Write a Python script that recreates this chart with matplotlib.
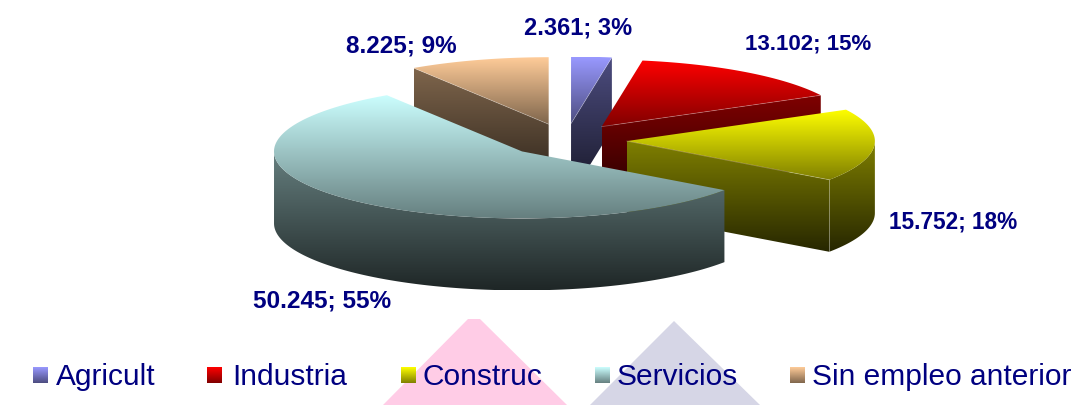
"""Exploded 3D-look pie of employment by sector, drawn in pixel coordinates."""

import numpy as np
import matplotlib
matplotlib.use("Agg")
import matplotlib.pyplot as plt
from matplotlib.patches import Polygon

# data
sectors = ["Agricult", "Industria", "Construc", "Servicios", "Sin empleo anterior"]
values = [2361, 13102, 15752, 50245, 8225]
value_labels = ["2.361", "13.102", "15.752", "50.245", "8.225"]
percent_labels = ["3%", "15%", "18%", "55%", "9%"]
colors = ["#9999FF", "#FF0000", "#FFFF00", "#CCFFFF", "#FFCC99"]

# layout, in pixels of the 1091x406 picture
CX, CY = 566, 141
RX, RY = 248, 67
DEPTH = 72
EXPLODE = 61
NAVY = "#000080"
label_pos = [(578, 28), (808, 44), (953, 222), (322, 301), (401, 46)]
label_size = [17, 16, 16.3, 17.6, 17.5]
legend_box_x = [33, 207, 401, 595, 790]
legend_text_x = [56, 232, 423, 617, 812]
draw_order = [4, 0, 1, 2, 3]

plt.rcParams["font.family"] = ["Liberation Sans", "DejaVu Sans"]

fig = plt.figure(figsize=(10.91, 4.06), dpi=100)
ax = fig.add_axes([0, 0, 1, 1])
ax.set_xlim(0, 1091)
ax.set_ylim(406, 0)
ax.set_autoscale_on(False)
ax.axis("off")

z = [0]


def shade(color, factor):
    return np.array(matplotlib.colors.to_rgb(color)) * factor


def gradient(verts, color, f_top, f_bottom, y_top=None, y_bottom=None):
    """Fill a polygon with a vertical gradient, clipped to its outline."""
    verts = np.asarray(verts)
    y_top = verts[:, 1].min() if y_top is None else y_top
    y_bottom = verts[:, 1].max() if y_bottom is None else y_bottom
    ramp = np.linspace(f_top, f_bottom, 256)[:, None, None]
    img = np.clip(ramp * shade(color, 1.0)[None, None, :], 0, 1)
    z[0] += 1
    im = ax.imshow(
        img,
        extent=(verts[:, 0].min(), verts[:, 0].max(), y_bottom, y_top),
        aspect="auto",
        interpolation="bilinear",
        zorder=z[0],
    )
    clip = Polygon(verts, closed=True, transform=ax.transData)
    im.set_clip_path(clip)


def ridge(points):
    z[0] += 1
    pts = np.asarray(points)
    ax.plot(pts[:, 0], pts[:, 1], color="white", lw=0.6, alpha=0.28, zorder=z[0])


def arc(x0, y0, a0, a1):
    a = np.radians(np.linspace(a0, a1, max(int(abs(a1 - a0)) * 2, 2)))
    return np.column_stack([x0 + RX * np.sin(a), y0 - RY * np.cos(a)])


# pale triangles behind the legend
ax.add_patch(Polygon([(383, 406), (468, 320), (480, 320), (567, 406)], fc="#FFCCE6", ec="none", zorder=0))
ax.add_patch(Polygon([(590, 406), (674, 322), (760, 406)], fc="#D6D6E6", ec="none", zorder=0))

# slices, angles run clockwise from twelve o'clock
total = sum(values)
edges = np.concatenate([[0], np.cumsum(values)]) / total * 360

for i in draw_order:
    a0, a1 = edges[i], edges[i + 1]
    mid = np.radians((a0 + a1) / 2)
    x0 = CX + EXPLODE * np.sin(mid)
    y0 = CY - EXPLODE * RY / RX * np.cos(mid)
    top = arc(x0, y0, a0, a1)
    apex = np.array([[x0, y0]])
    down = np.array([0, DEPTH])

    # walls share one ramp over the slice's whole wall height
    faces = []
    if np.sin(np.radians(a0)) < -1e-6:
        faces.append(np.vstack([apex, top[:1], top[:1] + down, apex + down]))
    if np.sin(np.radians(a1)) > 1e-6:
        faces.append(np.vstack([apex, top[-1:], top[-1:] + down, apex + down]))
    r0, r1 = max(a0, 90), min(a1, 270)
    if r1 > r0:
        rim = arc(x0, y0, r0, r1)
        faces.append(np.vstack([rim, (rim + down)[::-1]]))
    if faces:
        y_lo = min(f[:, 1].min() for f in faces)
        y_hi = max(f[:, 1].max() for f in faces)
        for f in faces:
            gradient(f, colors[i], 0.5, 0.15, y_lo, y_hi)

    gradient(np.vstack([apex, top]), colors[i], 1.0, 0.5)

    # thin light seams along the visible top edges
    if np.sin(np.radians(a1)) > 1e-6:
        ridge(np.vstack([apex, top[-1:]]))
        if 90 < a1 < 270:
            ridge(np.vstack([top[-1:], top[-1:] + down]))
    if np.sin(np.radians(a0)) < -1e-6:
        ridge(np.vstack([apex, top[:1]]))

z[0] += 1
for i in range(len(sectors)):
    ax.text(
        label_pos[i][0], label_pos[i][1],
        f"{value_labels[i]}; {percent_labels[i]}",
        color=NAVY, fontsize=label_size[i], fontweight="bold",
        ha="center", va="center", zorder=z[0],
    )

# legend
for i, name in enumerate(sectors):
    bx = legend_box_x[i]
    gradient([(bx, 368), (bx + 15, 368), (bx + 15, 384), (bx, 384)], colors[i], 1.0, 0.5)
    ax.text(legend_text_x[i], 385.5, name, color=NAVY, fontsize=21.5,
            ha="left", va="baseline", zorder=z[0] + 1)

fig.savefig("out.png", dpi=100, facecolor="white")
plt.close(fig)
